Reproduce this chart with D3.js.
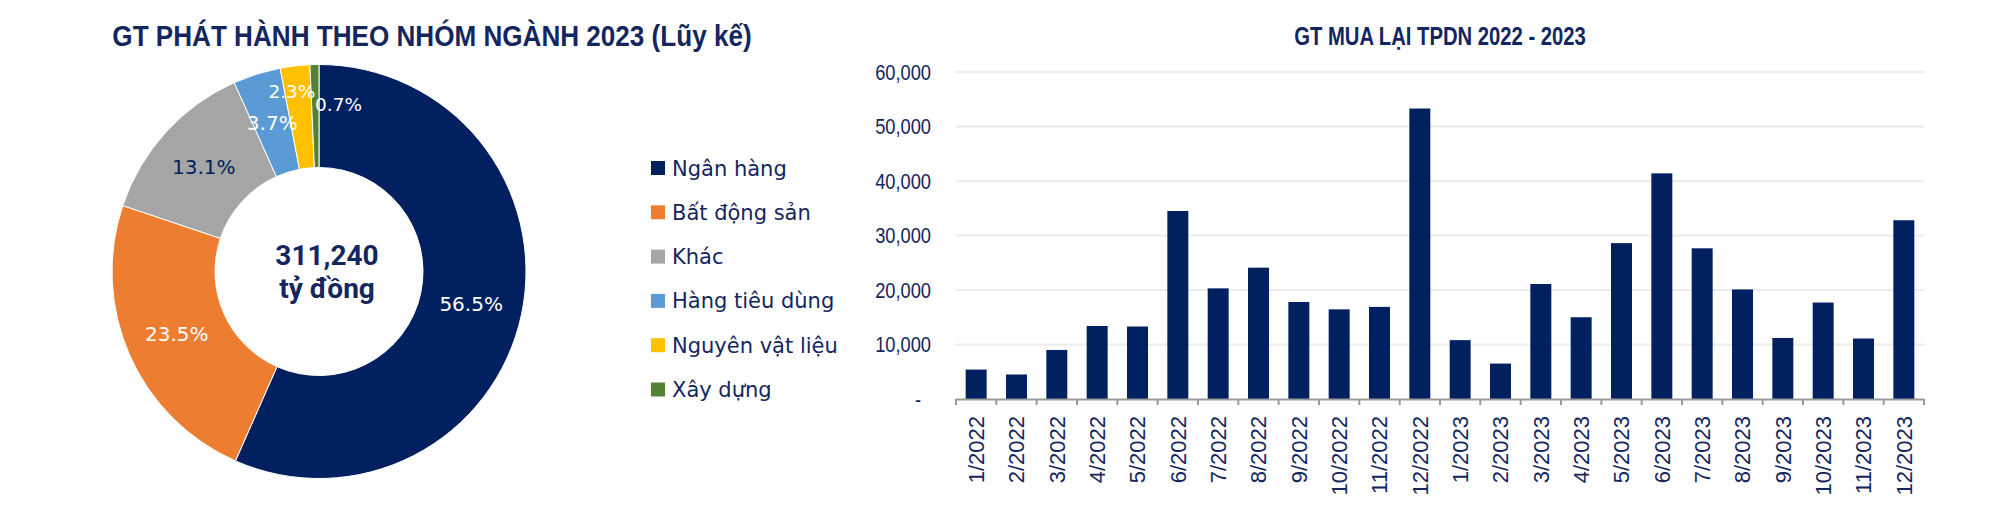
<!DOCTYPE html>
<html>
<head>
<meta charset="utf-8">
<script src="https://cdnjs.cloudflare.com/ajax/libs/d3/7.8.5/d3.min.js"></script>
<style>
  body { margin: 0; background: #fff; }
  svg { display: block; }
</style>
</head>
<body>
<div id="chart"></div>
<script>
// pie data - GT phat hanh theo nhom nganh 2023
var sectors      = [ 'Ngân hàng', 'Bất động sản', 'Khác', 'Hàng tiêu dùng', 'Nguyên vật liệu', 'Xây dựng' ];
var sectorShares = [ 56.5, 23.5, 13.1, 3.7, 2.3, 0.7 ];
var totalLabel   = [ '311,240', 'tỷ đồng' ];

// bar data - GT mua lai TPDN
var months   = [ '1/2022', '2/2022', '3/2022', '4/2022', '5/2022', '6/2022', '7/2022', '8/2022', '9/2022', '10/2022', '11/2022', '12/2022',
                 '1/2023', '2/2023', '3/2023', '4/2023', '5/2023', '6/2023', '7/2023', '8/2023', '9/2023', '10/2023', '11/2023', '12/2023' ];
var buyback  = [ 5400, 4500, 9000, 13400, 13300, 34500, 20300, 24100, 17800, 16450, 16900, 53300,
                 10800, 6500, 21100, 15000, 28600, 41400, 27650, 20100, 11200, 17700, 11100, 32800 ];
var yTicks   = [ 0, 10000, 20000, 30000, 40000, 50000, 60000 ];

var width    = 2000;
var height   = 511;
var navy     = '#002060';
var textCol  = '#14265e';
var colors   = [ '#002060', '#ED7D31', '#A5A5A5', '#5B9BD5', '#FFC000', '#548235' ];
var sans     = '"Liberation Sans", Arial, sans-serif';

var svg = d3.select( '#chart' )
    .append( 'svg' )
    .attr( 'width', width )
    .attr( 'height', height );

// no narrow font installed -> squeeze a normal one a bit
function squeezed( g, px, py, sx ){
    return g.append( 'text' )
        .attr( 'transform', 'translate(' + px + ',' + py + ') scale(' + sx + ',1)' )
        .attr( 'font-family', sans );
}

// ---------------- donut ----------------
var cx = 319, cy = 271.5;
var pie = d3.pie().sort( null ).value( function( d ){ return d; } );
var arc = d3.arc().innerRadius( 104 ).outerRadius( 207 );
var arcs = pie( sectorShares );

squeezed( svg, 432, 46, 0.9 )
    .attr( 'text-anchor', 'middle' )
    .attr( 'font-weight', 'bold' )
    .attr( 'font-size', 29 )
    .attr( 'fill', textCol )
    .text( 'GT PHÁT HÀNH THEO NHÓM NGÀNH 2023 (Lũy kế)' );

var donut = svg.append( 'g' ).attr( 'transform', 'translate(' + cx + ',' + cy + ')' );

donut.selectAll( 'path' )
    .data( arcs )
    .enter()
    .append( 'path' )
    .attr( 'd', arc )
    .attr( 'fill', function( d, i ){ return colors[i]; } )
    .attr( 'stroke', '#fff' )
    .attr( 'stroke-width', 1 );

// small slices get nudged like in excel
var labelShift = [ [0, 0], [0, 0], [0, 0], [0, 0], [-9, -26], [23, -12] ];

donut.selectAll( 'text.pct' )
    .data( arcs )
    .enter()
    .append( 'text' )
    .attr( 'class', 'pct' )
    .attr( 'x', function( d, i ){ return arc.centroid( d )[0] + labelShift[i][0]; } )
    .attr( 'y', function( d, i ){ return arc.centroid( d )[1] + labelShift[i][1]; } )
    .attr( 'dy', '0.36em' )
    .attr( 'text-anchor', 'middle' )
    .attr( 'font-family', '"DejaVu Sans", Verdana, sans-serif' )
    .attr( 'font-size', function( d, i ){ return i > 3 ? 18.5 : 20; } )
    .attr( 'fill', function( d, i ){ return i === 2 ? navy : '#fff'; } )
    .text( function( d ){ return d.data.toFixed( 1 ) + '%'; } );

donut.selectAll( 'text.total' )
    .data( totalLabel )
    .enter()
    .append( 'text' )
    .attr( 'class', 'total' )
    .attr( 'x', 8 )
    .attr( 'y', function( d, i ){ return -17 + i * 33; } )
    .attr( 'dy', '0.36em' )
    .attr( 'text-anchor', 'middle' )
    .attr( 'font-family', 'Roboto, "Liberation Sans", sans-serif' )
    .attr( 'font-weight', 'bold' )
    .attr( 'font-size', 28 )
    .attr( 'fill', textCol )
    .text( function( d ){ return d; } );

// legend
var legend = svg.selectAll( 'g.legend' )
    .data( sectors )
    .enter()
    .append( 'g' )
    .attr( 'class', 'legend' )
    .attr( 'transform', function( d, i ){ return 'translate(651,' + ( 168 + i * 44.3 ) + ')'; } );

legend.append( 'rect' )
    .attr( 'x', 0 )
    .attr( 'y', -7 )
    .attr( 'width', 14 )
    .attr( 'height', 14 )
    .attr( 'fill', function( d, i ){ return colors[i]; } );

legend.append( 'text' )
    .attr( 'x', 21 )
    .attr( 'dy', '0.36em' )
    .attr( 'font-family', '"DejaVu Sans", Verdana, sans-serif' )
    .attr( 'font-size', 21 )
    .attr( 'fill', textCol )
    .text( function( d ){ return d; } );

// ---------------- bars ----------------
var plotLeft = 956, plotRight = 1924, plotTop = 72, plotBottom = 399;

var x = d3.scaleBand()
    .domain( months )
    .range( [ plotLeft, plotRight ] )
    .paddingInner( 0.48 )
    .paddingOuter( 0.24 );

var y = d3.scaleLinear()
    .domain( [ 0, 60000 ] )
    .range( [ plotBottom, plotTop ] );

squeezed( svg, ( plotLeft + plotRight ) / 2, 45, 0.81 )
    .attr( 'text-anchor', 'middle' )
    .attr( 'font-weight', 'bold' )
    .attr( 'font-size', 25 )
    .attr( 'fill', textCol )
    .text( 'GT MUA LẠI TPDN 2022 - 2023' );

// gridlines
svg.selectAll( 'line.grid' )
    .data( yTicks.slice( 1 ) )
    .enter()
    .append( 'line' )
    .attr( 'class', 'grid' )
    .attr( 'x1', plotLeft )
    .attr( 'x2', plotRight )
    .attr( 'y1', function( d ){ return y( d ); } )
    .attr( 'y2', function( d ){ return y( d ); } )
    .attr( 'stroke', '#ececec' )
    .attr( 'stroke-width', 2 );

// y labels
yTicks.forEach( function( d ){
    squeezed( svg, d === 0 ? 921 : 931, y( d ), 0.83 )
        .attr( 'dy', '0.36em' )
        .attr( 'text-anchor', 'end' )
        .attr( 'font-size', 22 )
        .attr( 'fill', textCol )
        .text( d === 0 ? '-' : d3.format( ',' )( d ) );
});

svg.selectAll( 'rect.bar' )
    .data( buyback )
    .enter()
    .append( 'rect' )
    .attr( 'class', 'bar' )
    .attr( 'x', function( d, i ){ return x( months[i] ); } )
    .attr( 'y', function( d ){ return y( d ); } )
    .attr( 'width', x.bandwidth() )
    .attr( 'height', function( d ){ return plotBottom - y( d ); } )
    .attr( 'fill', navy );

// x axis line + ticks between categories
var step = x.step();
var edges = months.map( function( m ){ return x( m ) - step * 0.24; } ).concat( [ plotRight ] );

svg.append( 'line' )
    .attr( 'x1', plotLeft )
    .attr( 'x2', plotRight )
    .attr( 'y1', plotBottom + 0.5 )
    .attr( 'y2', plotBottom + 0.5 )
    .attr( 'stroke', '#9a9a9a' )
    .attr( 'stroke-width', 2 );

svg.selectAll( 'line.xtick' )
    .data( edges )
    .enter()
    .append( 'line' )
    .attr( 'class', 'xtick' )
    .attr( 'x1', function( d ){ return d; } )
    .attr( 'x2', function( d ){ return d; } )
    .attr( 'y1', plotBottom )
    .attr( 'y2', plotBottom + 6 )
    .attr( 'stroke', '#9a9a9a' )
    .attr( 'stroke-width', 2 );

svg.selectAll( 'text.xlab' )
    .data( months )
    .enter()
    .append( 'text' )
    .attr( 'class', 'xlab' )
    .attr( 'transform', function( d ){
        return 'translate(' + ( x( d ) + x.bandwidth() / 2 ) + ',' + ( plotBottom + 17 ) + ') rotate(-90)';
    })
    .attr( 'dy', '0.36em' )
    .attr( 'text-anchor', 'end' )
    .attr( 'font-family', sans )
    .attr( 'font-size', 22 )
    .attr( 'fill', textCol )
    .text( function( d ){ return d; } );
</script>
</body>
</html>
